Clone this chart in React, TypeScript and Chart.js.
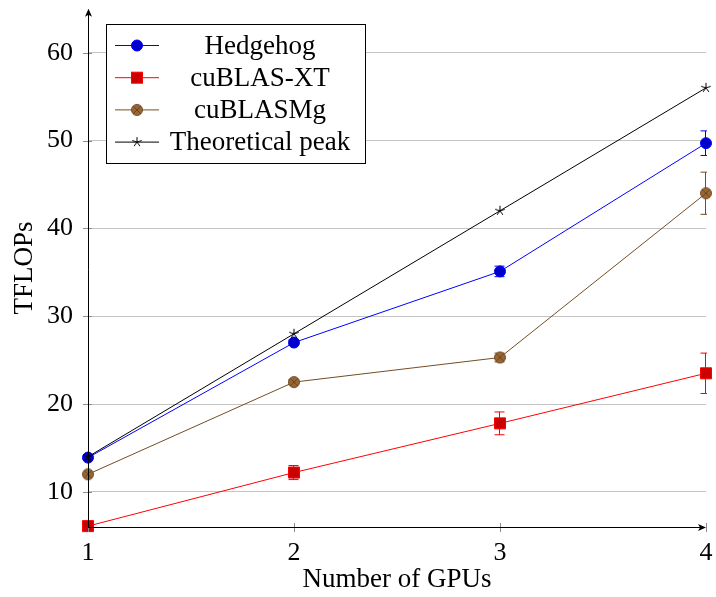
import { useEffect, useRef } from 'react';
import { Chart, registerables } from 'chart.js';

Chart.register(...registerables);

// ---- data ----
const gpus = [1, 2, 3, 4];
const seriesNames = ['Hedgehog', 'cuBLAS-XT', 'cuBLASMg', 'Theoretical peak'];
const hedgehog = [13.9, 27.0, 35.1, 49.7];
const hedgehogErr = [0.2, 0.3, 0.6, 1.4];
const cublasXt = [6.1, 12.2, 17.8, 23.5];
const cublasXtErr = [0.2, 0.8, 1.3, 2.3];
const cublasMg = [12.0, 22.5, 25.3, 44.0];
const cublasMgErr = [0.2, 0.3, 0.5, 2.4];
const peak = [14, 28, 42, 56];
const xTicks = [1, 2, 3, 4];
const yTicks = [10, 20, 30, 40, 50, 60];
const xTitle = 'Number of GPUs';
const yTitle = 'TFLOPs';

const FONT = "'Liberation Serif', 'Times New Roman', serif";
const lineColors = ['#0000ff', '#ff0000', '#734d26', '#000000'];
const fillColors = ['#0000cc', '#cc0000', '#996633', '#000000'];
const series = [hedgehog, cublasXt, cublasMg, peak];
const errorSets: (number[] | null)[] = [hedgehogErr, cublasXtErr, cublasMgErr, null];

function makeOtimes(): HTMLCanvasElement {
  const c = document.createElement('canvas');
  c.width = 14; c.height = 14;
  const g = c.getContext('2d')!;
  const cx = 7, cy = 7, r = 5.5;
  g.beginPath(); g.arc(cx, cy, r, 0, Math.PI * 2);
  g.fillStyle = fillColors[2]; g.fill();
  g.lineWidth = 1; g.strokeStyle = lineColors[2]; g.stroke();
  const d = r * 0.7071;
  g.beginPath();
  g.moveTo(cx - d, cy - d); g.lineTo(cx + d, cy + d);
  g.moveTo(cx + d, cy - d); g.lineTo(cx - d, cy + d);
  g.strokeStyle = '#5a3c1e'; g.lineWidth = 0.8; g.stroke();
  return c;
}

function makeStar(): HTMLCanvasElement {
  const c = document.createElement('canvas');
  c.width = 14; c.height = 14;
  const g = c.getContext('2d')!;
  const cx = 7, cy = 7, r = 5;
  g.beginPath();
  for (let k = 0; k < 5; k++) {
    const a = -Math.PI / 2 + (k * 2 * Math.PI) / 5;
    g.moveTo(cx, cy);
    g.lineTo(cx + r * Math.cos(a), cy + r * Math.sin(a));
  }
  g.strokeStyle = '#000'; g.lineWidth = 1; g.stroke();
  return c;
}

export default function App() {
  const ref = useRef<HTMLCanvasElement | null>(null);

  useEffect(() => {
    document.body.style.margin = '0';
    document.body.style.overflow = 'hidden';
    const canvas = ref.current!;
    const otimes = makeOtimes();
    const star = makeStar();

    const drawMarker = (ctx: CanvasRenderingContext2D, i: number, x: number, y: number) => {
      if (i === 0) {
        ctx.beginPath(); ctx.arc(x, y, 5.5, 0, Math.PI * 2);
        ctx.fillStyle = fillColors[0]; ctx.fill();
        ctx.lineWidth = 1; ctx.strokeStyle = lineColors[0]; ctx.stroke();
      } else if (i === 1) {
        ctx.fillStyle = fillColors[1];
        ctx.fillRect(x - 5.5, y - 5.5, 11, 11);
        ctx.lineWidth = 1; ctx.strokeStyle = lineColors[1];
        ctx.strokeRect(x - 5.5, y - 5.5, 11, 11);
      } else if (i === 2) {
        ctx.drawImage(otimes, x - 7, y - 7);
      } else {
        ctx.drawImage(star, x - 7, y - 7);
      }
    };

    const decorPlugin = {
      id: 'decor',
      beforeDatasetsDraw(chart: any) {
        const ctx = chart.ctx as CanvasRenderingContext2D;
        const { left, right, top, bottom } = chart.chartArea;
        const xs = chart.scales.x, ys = chart.scales.y;
        ctx.save();
        ctx.beginPath(); ctx.rect(left - 1, top, right - left + 2, bottom - top); ctx.clip();
        errorSets.forEach((errs, i) => {
          if (!errs) return;
          const vals = series[i];
          ctx.strokeStyle = lineColors[i];
          ctx.lineWidth = 1;
          errs.forEach((e, j) => {
            const x = Math.round(xs.getPixelForValue(gpus[j])) - 0.5;
            const y1 = ys.getPixelForValue(vals[j] + e);
            const y2 = ys.getPixelForValue(vals[j] - e);
            ctx.beginPath();
            ctx.moveTo(x, y1); ctx.lineTo(x, y2);
            ctx.moveTo(x - 5, y1); ctx.lineTo(x + 5, y1);
            ctx.moveTo(x - 5, y2); ctx.lineTo(x + 5, y2);
            ctx.stroke();
          });
        });
        ctx.restore();
      },
      afterDraw(chart: any) {
        const ctx = chart.ctx as CanvasRenderingContext2D;
        const { left, right, top, bottom } = chart.chartArea;
        const xs = chart.scales.x, ys = chart.scales.y;
        ctx.save();
        // tick marks crossing the axes
        ctx.strokeStyle = '#8c8c8c';
        ctx.lineWidth = 1;
        ctx.beginPath();
        xTicks.forEach((v) => {
          const x = Math.round(xs.getPixelForValue(v)) + 0.5;
          ctx.moveTo(x, bottom - 4); ctx.lineTo(x, bottom + 5);
        });
        yTicks.forEach((v) => {
          const y = Math.round(ys.getPixelForValue(v)) + 0.5;
          ctx.moveTo(left - 5, y); ctx.lineTo(left + 4, y);
        });
        ctx.stroke();
        // axis lines
        ctx.strokeStyle = '#000';
        ctx.beginPath();
        const ax = Math.round(left) + 0.5;
        const ay = Math.round(bottom) + 0.5;
        ctx.moveTo(ax, ay); ctx.lineTo(ax, top + 2);
        ctx.moveTo(left, ay); ctx.lineTo(right - 2, ay);
        ctx.stroke();
        // arrow heads
        ctx.fillStyle = '#000';
        ctx.beginPath();
        ctx.moveTo(ax, top);
        ctx.lineTo(ax - 3.5, top + 8);
        ctx.lineTo(ax, top + 6);
        ctx.lineTo(ax + 3.5, top + 8);
        ctx.closePath(); ctx.fill();
        ctx.beginPath();
        ctx.moveTo(right, ay);
        ctx.lineTo(right - 8, ay - 3.5);
        ctx.lineTo(right - 6, ay);
        ctx.lineTo(right - 8, ay + 3.5);
        ctx.closePath(); ctx.fill();

        // legend
        const bx = 106.5, by = 24.5, bw = 259, bh = 139;
        ctx.fillStyle = '#fff';
        ctx.fillRect(bx, by, bw, bh);
        ctx.strokeStyle = '#000'; ctx.lineWidth = 1;
        ctx.strokeRect(bx, by, bw, bh);
        ctx.font = `27px ${FONT}`;
        ctx.textAlign = 'center';
        ctx.textBaseline = 'middle';
        seriesNames.forEach((name, i) => {
          const y = 45.5 + i * 32.2;
          ctx.strokeStyle = lineColors[i]; ctx.lineWidth = 1;
          ctx.beginPath(); ctx.moveTo(115, y); ctx.lineTo(159, y); ctx.stroke();
          drawMarker(ctx, i, 137, y);
          ctx.fillStyle = '#000';
          ctx.fillText(name, 260, y + 1);
        });
        ctx.restore();
      },
    };

    const styles: any[] = ['circle', 'rect', otimes, star];
    const radii = [5.5, 7.8, 7, 7];

    const zeroPad = (s: any) => {
      s.paddingTop = 0; s.paddingBottom = 0; s.paddingLeft = 0; s.paddingRight = 0;
    };

    const chart = new Chart(canvas, {
      type: 'line',
      data: {
        datasets: series.map((vals, i) => ({
          label: seriesNames[i],
          data: vals.map((v, j) => ({ x: gpus[j], y: v })),
          borderColor: lineColors[i],
          backgroundColor: fillColors[i],
          borderWidth: 1,
          pointStyle: styles[i],
          pointRadius: radii[i],
          pointBorderColor: lineColors[i],
          pointBackgroundColor: fillColors[i],
          pointBorderWidth: 1,
          tension: 0,
          fill: false,
          clip: false as any,
          order: 3 - i,
        })) as any,
      },
      options: {
        animation: false,
        responsive: false,
        layout: { padding: { top: 8, right: 10, left: 0, bottom: 0 } },
        plugins: { legend: { display: false }, tooltip: { enabled: false } },
        scales: {
          x: {
            type: 'linear',
            min: 1,
            max: 4,
            afterBuildTicks: (s: any) => { s.ticks = xTicks.map((v) => ({ value: v })); },
            afterFit: (s: any) => { s.height = 70; zeroPad(s); },
            grid: { display: false, drawTicks: false },
            border: { display: false },
            ticks: { padding: 11, color: '#000', font: { family: FONT, size: 26 } },
            title: {
              display: true,
              text: xTitle,
              color: '#000',
              font: { family: FONT, size: 27 },
              padding: { top: 0, bottom: 1 },
            },
          },
          y: {
            type: 'linear',
            min: 6,
            max: 65,
            afterBuildTicks: (s: any) => { s.ticks = yTicks.map((v) => ({ value: v })); },
            afterFit: (s: any) => { s.width = 88; zeroPad(s); },
            grid: { color: '#c4c4c4', lineWidth: 1, drawTicks: false },
            border: { display: false },
            ticks: { padding: 15, color: '#000', font: { family: FONT, size: 26 } },
            title: {
              display: true,
              text: yTitle,
              color: '#000',
              font: { family: FONT, size: 27 },
              padding: { top: 9, bottom: 0 },
            },
          },
        },
      },
      plugins: [decorPlugin],
    });

    return () => chart.destroy();
  }, []);

  return <canvas ref={ref} width={716} height={597} style={{ display: 'block', width: 716, height: 597 }} />;
}
